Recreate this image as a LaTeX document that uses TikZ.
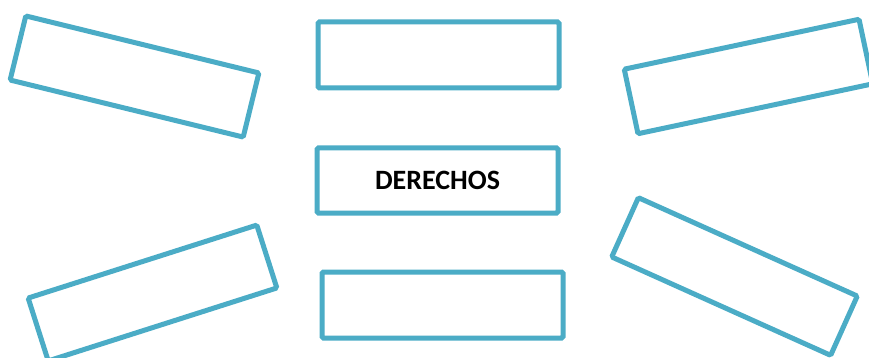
\documentclass[tikz,border=0pt]{standalone}
\usepackage{fontspec}
\setmainfont{Carlito}
\definecolor{boxblue}{RGB}{75,172,198}
\begin{document}
\begin{tikzpicture}[x=1pt,y=-1pt,
  box/.style={draw=boxblue,line width=5pt,rounded corners=1.5pt,minimum width=240pt,minimum height=66pt,inner sep=0pt,fill=white}]
\useasboundingbox (0,0) rectangle (869,358);
\begin{scope}
\clip (0,0) rectangle (869,358);
\node[box,rotate=-13.75] (tl) at (134.5,76.5) {};
\node[box,rotate=12.0] (tr) at (748.5,76.5) {};
\node[box,rotate=17.7] (bl) at (152.5,293) {};
\node[box,rotate=-24.2,minimum height=65pt] (br) at (734.5,276.5) {};
\node[box,minimum width=241pt] (tc) at (438.5,55) {};
\node[box,minimum width=241pt,minimum height=65pt,font=\fontsize{28}{32}\selectfont\bfseries] (mc) at (437.5,180.5) {DERECHOS};
\node[box,minimum width=241pt] (bc) at (442.5,305) {};
\end{scope}
\end{tikzpicture}
\end{document}
